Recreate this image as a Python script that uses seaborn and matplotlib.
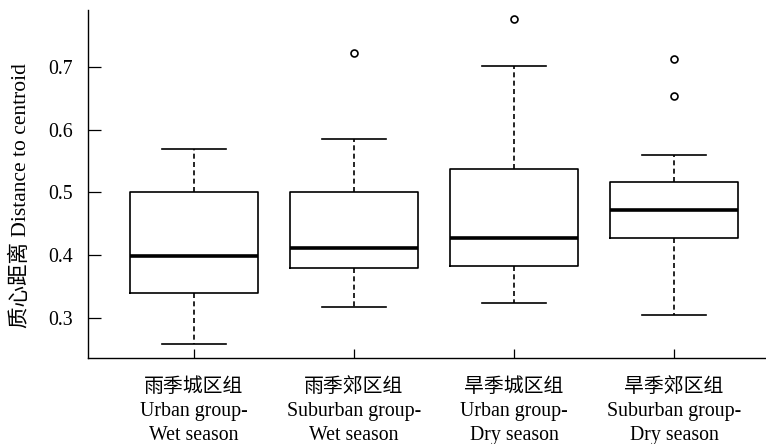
import numpy as np
import pandas as pd
import matplotlib
matplotlib.use("Agg")
import matplotlib.pyplot as plt
import seaborn as sns

# group labels (Chinese + English)
groups = ["雨季城区组\nUrban group-\nWet season",
          "雨季郊区组\nSuburban group-\nWet season",
          "旱季城区组\nUrban group-\nDry season",
          "旱季郊区组\nSuburban group-\nDry season"]

# distance-to-centroid samples (whiskers, quartiles, median, outliers)
urban_wet = [0.258, 0.310, 0.340, 0.372, 0.398, 0.452, 0.500, 0.535, 0.569]
suburban_wet = [0.318, 0.352, 0.379, 0.395, 0.411, 0.460, 0.501, 0.586, 0.722]
urban_dry = [0.323, 0.350, 0.382, 0.405, 0.427, 0.480, 0.537, 0.702, 0.777]
suburban_dry = [0.304, 0.380, 0.415, 0.428, 0.445, 0.460, 0.472, 0.490, 0.505,
                0.517, 0.560, 0.654, 0.713]

yticks = [0.3, 0.4, 0.5, 0.6, 0.7]

df = pd.concat([
    pd.DataFrame({"group": groups[0], "dist": urban_wet}),
    pd.DataFrame({"group": groups[1], "dist": suburban_wet}),
    pd.DataFrame({"group": groups[2], "dist": urban_dry}),
    pd.DataFrame({"group": groups[3], "dist": suburban_dry}),
])

plt.rcParams['font.family'] = ['Liberation Serif', 'Noto Sans CJK SC']

fig = plt.figure(figsize=(7.66, 4.44), dpi=100)
ax = fig.add_axes([88/766, 86/444, 1 - 88/766, 348/444])

sns.boxplot(data=df, x="group", y="dist", order=groups, ax=ax,
            width=0.8, fill=False, color="black", linecolor="black", linewidth=1.2,
            whiskerprops=dict(linestyle=(0, (3, 2)), linewidth=1.2),
            capprops=dict(linewidth=1.2),
            medianprops=dict(linewidth=2.6, color="black"),
            flierprops=dict(marker="o", markersize=5, markerfacecolor="none",
                            markeredgecolor="black", markeredgewidth=1.2))

ax.set_xlim(-0.6625, 3.575)
ax.set_ylim(0.236, 0.791)
ax.set_yticks(yticks)
ax.set_yticklabels([f"{v:.1f}" for v in yticks])
for s in ["top", "right"]:
    ax.spines[s].set_visible(False)
for s in ["left", "bottom"]:
    ax.spines[s].set_linewidth(1.0)
ax.tick_params(axis="y", direction="in", length=9.5, width=0.9, pad=11, labelsize=14.3)
ax.tick_params(axis="x", direction="in", length=6.5, width=0.9, pad=14.5, labelsize=14.3)
for lab in ax.get_xticklabels():
    lab.set_linespacing(1.35)
ax.set_xlabel("")
ax.set_ylabel("质心距离 Distance to centroid", fontsize=15.5)
ax.yaxis.set_label_coords(-0.084, 0.468)

fig.savefig("out.png", dpi=100)
